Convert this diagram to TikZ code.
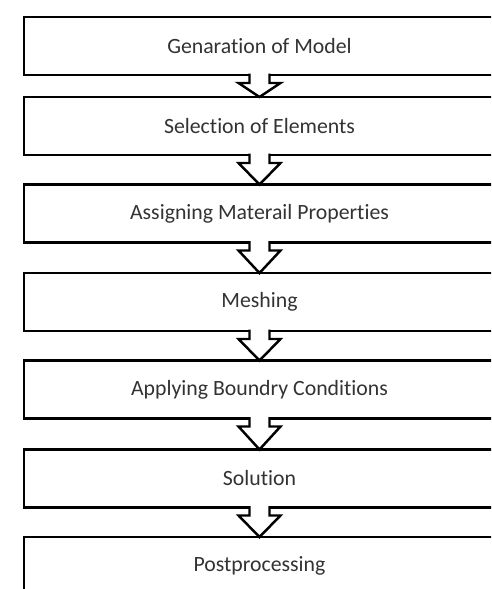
\documentclass[tikz,border=0pt]{standalone}
\usepackage{fontspec}
\setmainfont[Ligatures=NoCommon]{Carlito}
\usetikzlibrary{calc}

\tikzset{
  stage/.style={draw, line width=1.4pt, minimum width=9.42cm, minimum height=1.16cm,
    outer sep=0pt, inner sep=0pt, text=black!80, font=\fontsize{12.4}{14}\selectfont},
  flow/.style={line width=1.4pt, line join=miter}
}

% block arrow from the bottom of one stage to the top of the next
\newcommand{\flowarrow}[2]{%
  \fill[white] ($(#1.south)+(-10,-1.4)$) rectangle ($(#1.south)+(10,8)$);
  \fill[white] ($(#1.south)+(-10,0)$) -- ($(#1.south)+(-10,8)$) -- ($(#1.south)+(-21,8)$)
    -- (#2.north) -- ($(#1.south)+(21,8)$) -- ($(#1.south)+(10,8)$) -- ($(#1.south)+(10,0)$) -- cycle;
  \draw[flow] ($(#1.south)+(-10,-1.3)$) -- ($(#1.south)+(-10,8)$) -- ($(#1.south)+(-21,8)$)
    -- (#2.north) -- ($(#1.south)+(21,8)$) -- ($(#1.south)+(10,8)$) -- ($(#1.south)+(10,-1.3)$);
}

\begin{document}
\begin{tikzpicture}[x=0.02cm, y=-0.02cm]
\useasboundingbox (0,0) rectangle (491,589);
\clip (0,0) rectangle (491,589);
\fill[white] (0,0) rectangle (491,589);

\node [stage] (model) at (259.5,46) {Genaration of Model};
\node [stage] (elements) at (259.5,126) {Selection of Elements};
\node [stage] (material) at (259.5,213.5) {Assigning Materail Properties};
\node [stage] (meshing) at (259.5,302) {Meshing};
\node [stage] (boundary) at (259.5,389.5) {Applying Boundry Conditions};
\node [stage] (solution) at (259.5,478.5) {Solution};
\node [stage] (post) at (259.5,566) {Postprocessing};

\flowarrow{model}{elements}
\flowarrow{elements}{material}
\flowarrow{material}{meshing}
\flowarrow{meshing}{boundary}
\flowarrow{boundary}{solution}
\flowarrow{solution}{post}
\end{tikzpicture}
\end{document}
